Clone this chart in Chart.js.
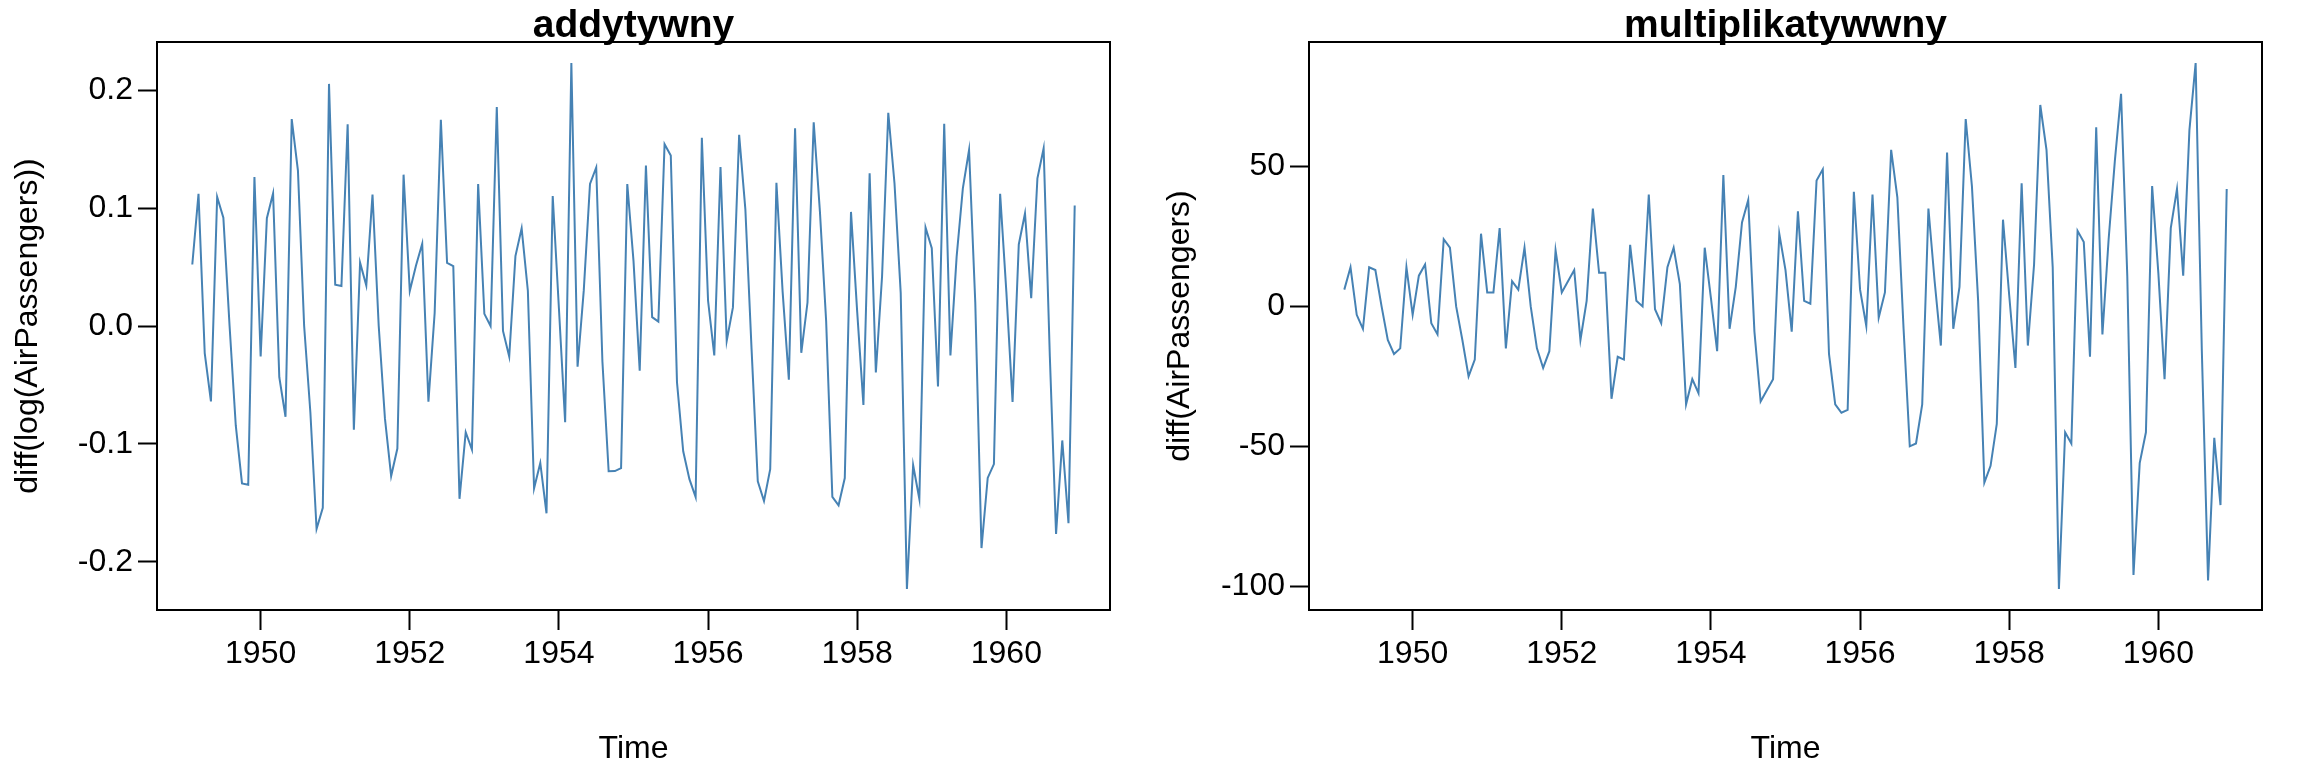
<!DOCTYPE html>
<html>
<head>
<meta charset="utf-8">
<title>AirPassengers diff</title>
<script src="https://cdn.jsdelivr.net/npm/chart.js@4.4.1/dist/chart.umd.min.js"></script>
<style>
  html, body { margin:0; padding:0; background:#fff; }
  .panel { position:absolute; top:0; width:1152px; height:768px; }
  #panelLeft { left:0; }
  #panelRight { left:1152px; }
</style>
</head>
<body>
<div class="panel" id="panelLeft"><canvas id="addChart"></canvas></div>
<div class="panel" id="panelRight"><canvas id="mulChart"></canvas></div>
<script>
/* ------------------------------------------------------------
   Data: AirPassengers, Feb 1949 .. Dec 1960 (monthly)
   ------------------------------------------------------------ */
var startYear = 1949;
var startMonth = 2; // first differenced value is Feb 1949

// diff(log(AirPassengers))
var logDiffValues = [
  0.0522, 0.1121, -0.0230, -0.0640, 0.1095, 0.0919, 0.0000, -0.0846, -0.1335, -0.1347, 0.1263,
  -0.0258, 0.0914, 0.1125, -0.0435, -0.0770, 0.1756, 0.1319, 0.0000, -0.0732, -0.1722, -0.1542, 0.2054,
  0.0351, 0.0339, 0.1711, -0.0880, 0.0537, 0.0343, 0.1115, 0.0000, -0.0784, -0.1273, -0.1040, 0.1284,
  0.0297, 0.0513, 0.0697, -0.0642, 0.0110, 0.1750, 0.0536, 0.0509, -0.1466, -0.0901, -0.1048, 0.1204,
  0.0103, 0.0000, 0.1857, -0.0042, -0.0259, 0.0593, 0.0829, 0.0299, -0.1377, -0.1162, -0.1589, 0.1103,
  0.0148, -0.0817, 0.2231, -0.0346, 0.0304, 0.1206, 0.1345, -0.0303, -0.1233, -0.1231, -0.1205, 0.1205,
  0.0552, -0.0379, 0.1362, 0.0075, 0.0037, 0.1542, 0.1446, -0.0478, -0.1063, -0.1299, -0.1451, 0.1596,
  0.0214, -0.0250, 0.1349, -0.0127, 0.0158, 0.1622, 0.0992, -0.0196, -0.1318, -0.1485, -0.1215, 0.1215,
  0.0290, -0.0455, 0.1678, -0.0227, 0.0199, 0.1729, 0.0970, 0.0043, -0.1449, -0.1521, -0.1290, 0.0968,
  0.0118, -0.0669, 0.1296, -0.0394, 0.0422, 0.1809, 0.1211, 0.0281, -0.2231, -0.1181, -0.1468, 0.0835,
  0.0660, -0.0513, 0.1715, -0.0249, 0.0588, 0.1167, 0.1493, 0.0199, -0.1884, -0.1289, -0.1172, 0.1122,
  0.0292, -0.0644, 0.0692, 0.0955, 0.0236, 0.1253, 0.1507, -0.0261, -0.1764, -0.0971, -0.1673, 0.1023
];

// diff(AirPassengers)
var diffValues = [
  6, 14, -3, -8, 14, 13, 0, -12, -17, -15, 14,
  -3, 11, 15, -6, -10, 24, 21, 0, -12, -25, -19, 26,
  5, 5, 28, -15, 9, 6, 21, 0, -15, -22, -16, 20,
  5, 9, 13, -12, 2, 35, 12, 12, -33, -18, -19, 22,
  2, 0, 40, -1, -6, 14, 21, 8, -35, -26, -31, 21,
  3, -16, 47, -8, 7, 30, 38, -9, -34, -30, -26, 26,
  13, -9, 34, 2, 1, 45, 49, -17, -35, -38, -37, 41,
  6, -7, 40, -4, 5, 56, 39, -8, -50, -49, -35, 35,
  9, -14, 55, -8, 7, 67, 43, 2, -63, -57, -42, 31,
  4, -22, 44, -14, 15, 72, 56, 14, -101, -45, -49, 27,
  23, -18, 64, -10, 24, 52, 76, 11, -96, -56, -45, 43,
  12, -26, 28, 42, 11, 63, 87, -16, -98, -47, -71, 42
];

var xTicks = [1950, 1952, 1954, 1956, 1958, 1960];
var logYTicks = [-0.2, -0.1, 0, 0.1, 0.2];
var diffYTicks = [-100, -50, 0, 50];

/* ------------------------------------------------------------
   Helpers
   ------------------------------------------------------------ */
var FONT = "'Liberation Sans', Arial, Helvetica, sans-serif";
var LINE_COLOR = '#4682B4';

function toPoints(values) {
  return values.map(function(v, i) {
    return { x: startYear + (startMonth - 1 + i) / 12, y: v };
  });
}

// R-style 4% padding of the data range
function padRange(lo, hi) {
  var d = (hi - lo) * 0.04;
  return [lo - d, hi + d];
}

var boxPlugin = {
  id: 'rbox',
  afterDatasetsDraw: function(chart) {
    var a = chart.chartArea;
    var ctx = chart.ctx;
    ctx.save();
    ctx.strokeStyle = '#000';
    ctx.lineWidth = 2;
    ctx.strokeRect(a.left, a.top, a.right - a.left, a.bottom - a.top);
    ctx.restore();
  }
};

function makeChart(id, title, yLabel, values, yTicks, fmt) {
  var ctx = document.getElementById(id);
  var xr = padRange(startYear + (startMonth - 1) / 12, startYear + (startMonth - 1 + values.length - 1) / 12);
  var yr = padRange(Math.min.apply(null, values), Math.max.apply(null, values));
  return new Chart(ctx, {
    type: 'line',
    data: {
      datasets: [{
        data: toPoints(values),
        borderColor: LINE_COLOR,
        borderWidth: 2,
        pointRadius: 0,
        tension: 0,
        fill: false
      }]
    },
    options: {
      responsive: true, maintainAspectRatio: false, animation: false,
      layout: { padding: { left:0, right:42, top:0, bottom:0 } },
      plugins: {
        legend: { display:false },
        tooltip: { enabled:false },
        title: {
          display: true, text: title, fullSize: false, color: '#000',
          font: { family: FONT, size: 39, weight: 'bold', lineHeight: 0.6 },
          padding: { top: 14.3, bottom: 4.3 }
        }
      },
      scales: {
        x: {
          type: 'linear', min: xr[0], max: xr[1],
          afterBuildTicks: function(s) { s.ticks = xTicks.map(function(v){ return { value: v }; }); },
          afterFit: function(s) { s.height = 158; },
          grid: { drawOnChartArea:false, drawTicks:true, tickLength:20, tickColor:'#000', tickWidth:2 },
          border: { display:false },
          ticks: { color:'#000', font:{ family: FONT, size:32 }, padding:5, maxRotation:0, autoSkip:false,
                   callback: function(v){ return String(v); } },
          title: { display:true, text:'Time', color:'#000', font:{ family: FONT, size:32 }, padding:{ top:0, bottom:0 } }
        },
        y: {
          type: 'linear', min: yr[0], max: yr[1],
          afterBuildTicks: function(s) { s.ticks = yTicks.map(function(v){ return { value: v }; }); },
          afterFit: function(s) { s.width = 157; },
          grid: { drawOnChartArea:false, drawTicks:true, tickLength:19, tickColor:'#000', tickWidth:2 },
          border: { display:false },
          ticks: { color:'#000', font:{ family: FONT, size:32 }, padding:5, autoSkip:false, callback: fmt },
          title: { display:true, text:yLabel, color:'#000', font:{ family: FONT, size:32 }, padding:{ top:9, bottom:0 } }
        }
      }
    },
    plugins: [boxPlugin]
  });
}

/* ------------------------------------------------------------
   Charts
   ------------------------------------------------------------ */
makeChart('addChart', 'addytywny', 'diff(log(AirPassengers))', logDiffValues, logYTicks,
  function(v) { return v.toFixed(1); });
makeChart('mulChart', 'multiplikatywwny', 'diff(AirPassengers)', diffValues, diffYTicks,
  function(v) { return String(v); });
</script>
</body>
</html>
